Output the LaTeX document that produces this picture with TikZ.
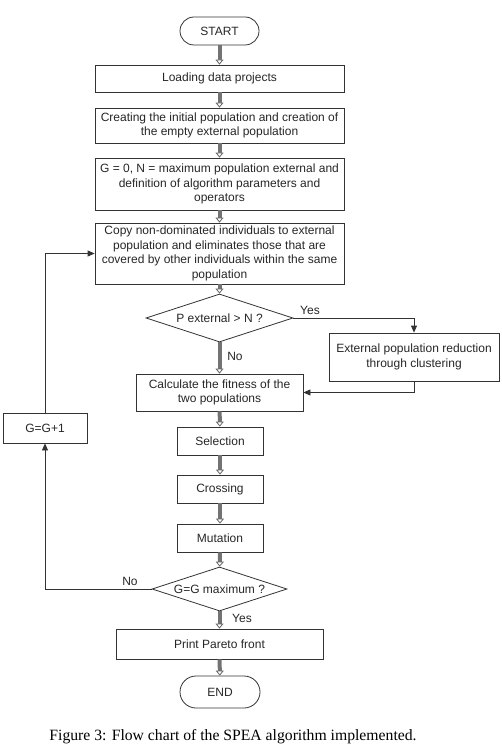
\documentclass[tikz,border=0pt]{standalone}
\usepackage{fontspec}
\setmainfont{Liberation Sans}
\newfontfamily\capfont{Liberation Serif}
\usetikzlibrary{arrows.meta,shapes.geometric}
\begin{document}
\begin{tikzpicture}[x=1pt,y=-1pt,
  every node/.style={font=\fontsize{12}{14.5}\selectfont, text=black!85},
  box/.style={draw=black!80, line width=0.8pt, rectangle, align=center, inner sep=1pt},
  term/.style={box, rounded corners=14pt},
  dec/.style={draw=black!80, line width=0.8pt, diamond, aspect=3, inner sep=0pt},
  flow/.style={draw=black!55, line width=4pt, -{Triangle[width=8pt,length=5pt,line width=0.8pt,fill=white,color=black!60]}},
  link/.style={draw=black!80, line width=0.8pt, -{Triangle[width=6pt,length=7pt]}},
  lbl/.style={inner sep=0pt}
]
\useasboundingbox (0,0) rectangle (502,751);
\node[term, minimum width=79pt, minimum height=28pt] (start) at (219.5,31) {START};
\node[box, minimum width=249pt, minimum height=27pt] (load) at (219.5,78.5) {Loading data projects};
\node[box, minimum width=249pt, minimum height=35pt] (create) at (219.5,125.5) {Creating the initial population and creation of\\the empty external population};
\node[box, minimum width=249pt, minimum height=52pt] (init) at (219.5,184) {G = 0, N = maximum population external and\\definition of algorithm parameters and\\operators};
\node[box, minimum width=249pt, minimum height=61pt] (copy) at (219.5,253.5) {Copy non-dominated individuals to external\\population and eliminates those that are\\covered by other individuals within the same\\population};
\node[dec, minimum width=147pt, minimum height=48pt] (dec1) at (219.5,318) {P external > N ?};
\node[box, minimum width=170pt, minimum height=48pt] (red) at (414,357) {External population reduction\\through clustering};
\node[box, minimum width=167pt, minimum height=37pt] (calc) at (219.5,392.5) {Calculate the fitness of the\\two populations};
\node[box, minimum width=86pt, minimum height=28pt] (sel) at (220,441) {Selection};
\node[box, minimum width=86pt, minimum height=28pt] (cross) at (220,489) {Crossing};
\node[box, minimum width=86pt, minimum height=28pt] (mut) at (220,538) {Mutation};
\node[dec, minimum width=135pt, minimum height=44pt] (dec2) at (219.5,589) {G=G maximum ?};
\node[box, minimum width=84pt, minimum height=30pt] (gg) at (45,428) {G=G+1};
\node[box, minimum width=207pt, minimum height=30pt] (print) at (219.5,644) {Print Pareto front};
\node[term, rounded corners=16pt, minimum width=80pt, minimum height=32pt] (end) at (220,692) {END};

\draw[flow] (start) -- (load);
\draw[flow] (load) -- (create);
\draw[flow] (create) -- (init);
\draw[flow] (init) -- (copy);
\draw[flow] (copy) -- (dec1);
\draw[flow] (dec1) -- (calc);
\draw[flow] (calc) -- (sel);
\draw[flow] (sel) -- (cross);
\draw[flow] (cross) -- (mut);
\draw[flow] (mut) -- (dec2);
\draw[flow] (dec2) -- (print);
\draw[flow] (print) -- (end);

\draw[link] (dec1.east) -| (red.north);
\draw[link] (red.south) |- (calc.east);
\draw[link] (dec2.west) -| (gg.south);
\draw[link] (gg.north) |- (copy.west);

\node[lbl] (yes1) at (310,310) {Yes};
\node[lbl] (no1) at (235,356) {No};
\node[lbl] (no2) at (130,581) {No};
\node[lbl] (yes2) at (242,618) {Yes};

\node[lbl, font=\capfont\fontsize{15.7}{18}\selectfont, text=black] (cap) at (233,737) {Figure 3: Flow chart of the SPEA algorithm implemented.};
\end{tikzpicture}
\end{document}
